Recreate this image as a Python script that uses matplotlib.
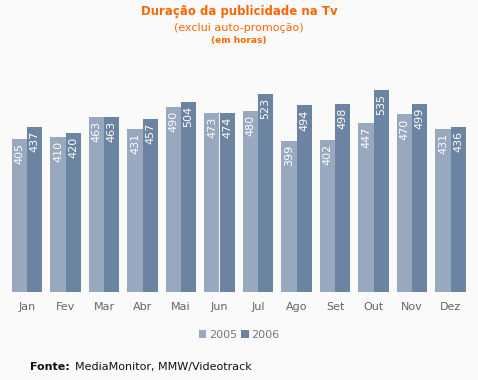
import matplotlib
matplotlib.use('Agg')
import matplotlib.pyplot as plt
import numpy as np

months = ['Jan', 'Fev', 'Mar', 'Abr', 'Mai', 'Jun', 'Jul', 'Ago', 'Set', 'Out', 'Nov', 'Dez']
v2005 = [405, 410, 463, 431, 490, 473, 480, 399, 402, 447, 470, 431]
v2006 = [437, 420, 463, 457, 504, 474, 523, 494, 498, 535, 499, 436]

bg = '#FAFAFA'
c2005 = '#97A8BF'
c2006 = '#6A84A1'
orange = '#FF6600'

fig = plt.figure(figsize=(4.78, 3.8), dpi=100, facecolor=bg)
W, H = 478, 380
ax = fig.add_axes([7.75 / W, 88 / H, 462 / W, 211.5 / H], facecolor=bg)

x = np.arange(len(months))
bw = 0.39
b1 = ax.bar(x - bw / 2, v2005, bw, color=c2005, label='2005')
b2 = ax.bar(x + bw / 2, v2006, bw, color=c2006, label='2006')

for bars, vals in ((b1, v2005), (b2, v2006)):
    for b, v in zip(bars, vals):
        ax.text(b.get_x() + b.get_width() / 2, v - 10, str(v), rotation=90,
                ha='center', va='top', color='white', fontsize=8)

ax.set_xlim(-0.5, 11.5)
ax.set_ylim(0, 560)
ax.set_xticks(x)
ax.set_xticklabels(months, color='#666666', fontsize=8)
ax.tick_params(axis='x', length=0, pad=7)
ax.set_yticks([])
for s in ax.spines.values():
    s.set_visible(False)

fig.text(0.5, 1 - 12 / H, 'Duração da publicidade na Tv', ha='center', va='center',
         color=orange, fontsize=8.5, fontweight='bold')
fig.text(0.5, 1 - 28 / H, '(exclui auto-promoção)', ha='center', va='center',
         color=orange, fontsize=8)
fig.text(0.5, 1 - 41 / H, '(em horas)', ha='center', va='center',
         color=orange, fontsize=6.5, fontweight='bold')

leg = fig.legend(handles=[b1, b2], labels=['2005', '2006'], loc='center',
                 bbox_to_anchor=(0.5, 1 - 335 / H), ncol=2, frameon=False,
                 fontsize=8, handlelength=0.7, handleheight=0.7, handletextpad=0.2,
                 columnspacing=0.4)
for t in leg.get_texts():
    t.set_color('#777777')

fig.text(30 / W, 1 - 367 / H, 'Fonte:', ha='left', va='center',
         fontsize=8, fontweight='bold', color='#111111')
fig.text(75 / W, 1 - 367 / H, 'MediaMonitor, MMW/Videotrack', ha='left', va='center',
         fontsize=8, color='#111111')

fig.savefig('out.png', dpi=100, facecolor=bg)
